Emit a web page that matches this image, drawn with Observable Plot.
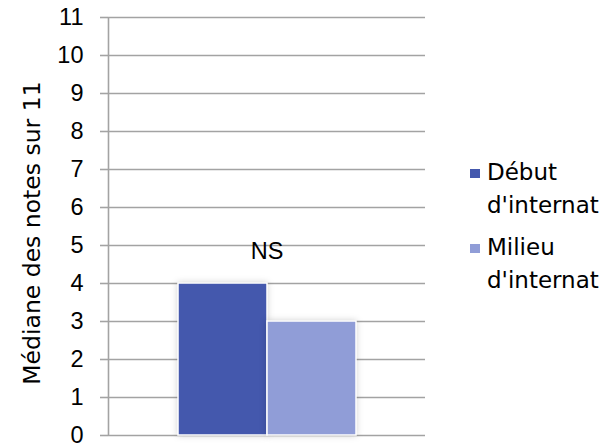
<!DOCTYPE html>
<html>
<head>
<meta charset="utf-8">
<script src="https://cdn.jsdelivr.net/npm/d3@7"></script>
<script src="https://cdn.jsdelivr.net/npm/@observablehq/plot@0.6"></script>
<style>
  html, body { margin: 0; padding: 0; background: #fff; }
  #wrap { position: relative; width: 604px; height: 443px; overflow: hidden; }
  .legend { position: absolute; left: 470px; top: 0; font-family: "DejaVu Sans", sans-serif; font-size: 23px; line-height: 33px; color: #000; }
  .legend .sw { position: absolute; left: 0; width: 10px; height: 9px; }
  .legend .lbl { position: absolute; left: 17px; white-space: nowrap; }
  .ylab { position: absolute; left: 32px; top: 233px; transform: translate(-50%, -50%) rotate(-90deg); font-family: "DejaVu Sans", sans-serif; font-size: 23.5px; white-space: nowrap; color: #000; }
  .bars rect { filter: drop-shadow(0 0 3px rgba(0,0,0,0.18)); }
</style>
</head>
<body>
<div id="wrap"></div>
<script>
const series = ["Début d'internat", "Milieu d'internat"];
const values = [4, 3];
const colors = ["#4458ad", "#909dd7"];
const yTicks = [0, 1, 2, 3, 4, 5, 6, 7, 8, 9, 10, 11];
const yLabel = "Médiane des notes sur 11";
const annotation = "NS";

const data = series.map((s, i) => ({serie: s, value: values[i]}));

const W = 604, H = 443, mL = 108, mR = 179, mT = 17, mB = 8;
const chart = Plot.plot({
  width: W,
  height: H,
  marginLeft: mL,
  marginRight: mR,
  marginTop: mT,
  marginBottom: mB,
  style: {fontFamily: "'Liberation Sans', Arial, sans-serif", fontSize: "24px", background: "white", overflow: "visible"},
  x: {domain: series, paddingInner: 0, paddingOuter: 0.77, axis: null},
  y: {domain: [0, 11], axis: null},
  color: {domain: series, range: colors},
  marks: [
    Plot.ruleY(yTicks, {y: d => d, stroke: "#a3a3a3", strokeWidth: 1.6}),
    Plot.axisY(yTicks, {tickSize: 8, tickPadding: 17, stroke: "#a3a3a3", strokeWidth: 1.6, fill: "black", label: null, tickFormat: d => String(d), fontSize: 23.5}),
    Plot.ruleX([0], {x: null, dx: -((W - mL - mR) / 2), stroke: "#a3a3a3", strokeWidth: 1.6}),
    Plot.barY(data, {x: "serie", y: "value", fill: "serie", stroke: "white", strokeWidth: 1.5, className: "bars"}),
    Plot.text([annotation], {text: d => d, y: [4.85], fontSize: 23.5, fill: "black"})
  ]
});
const wrap = document.getElementById("wrap");
wrap.appendChild(chart);

// y axis label
const yl = document.createElement("div");
yl.className = "ylab";
yl.textContent = yLabel;
wrap.appendChild(yl);

// legend
const legend = document.createElement("div");
legend.className = "legend";
const rowTops = [156, 231];
series.forEach((s, i) => {
  const sw = document.createElement("div");
  sw.className = "sw";
  sw.style.top = (rowTops[i] + 13) + "px";
  sw.style.background = colors[i];
  legend.appendChild(sw);
  const lbl = document.createElement("div");
  lbl.className = "lbl";
  lbl.style.top = rowTops[i] + "px";
  s.split(" ").forEach(p => {
    const line = document.createElement("div");
    line.textContent = p;
    lbl.appendChild(line);
  });
  legend.appendChild(lbl);
});
wrap.appendChild(legend);
</script>
</body>
</html>
